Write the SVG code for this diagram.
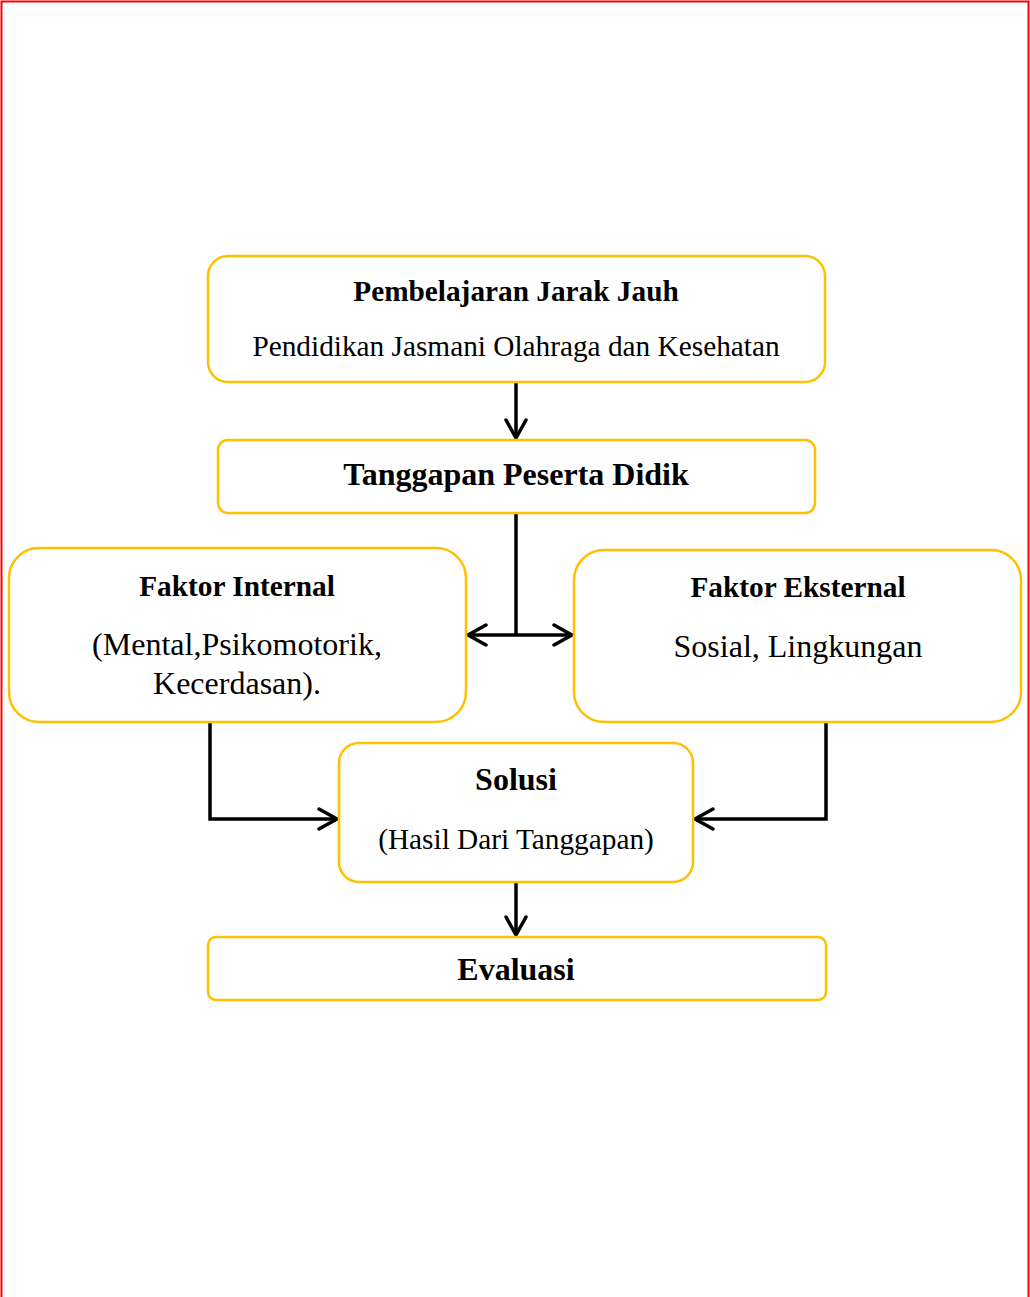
<svg xmlns="http://www.w3.org/2000/svg" width="1030" height="1297" viewBox="0 0 1030 1297">
<defs>
<style>
.box{fill:#fff;stroke:#FFC000;stroke-width:2.5}
.t{font-family:"Liberation Serif","Times New Roman",serif;fill:#000;text-anchor:middle}
.b{font-weight:bold}
.s{font-size:29.3px}
.l{font-size:32px}
.c{fill:none;stroke:#000;stroke-width:3.5}
</style>
<marker id="ah" viewBox="0 0 22 24" markerWidth="22" markerHeight="24" refX="20" refY="12" orient="auto-start-reverse" markerUnits="userSpaceOnUse">
<path d="M2,2 L20,12 L2,22" fill="none" stroke="#000" stroke-width="3.5" stroke-linecap="round" stroke-linejoin="round"/>
</marker>
</defs>
<rect x="0" y="0" width="1030" height="1297" fill="#fff"/>
<rect x="1.5" y="1.5" width="1027" height="1310" fill="none" stroke="#FF0000" stroke-width="2"/>
<g id="connectors">
<line class="c" x1="516" y1="382" x2="516" y2="438" marker-end="url(#ah)"/>
<line class="c" x1="516" y1="513" x2="516" y2="635"/>
<line class="c" x1="468" y1="635" x2="572" y2="635" marker-start="url(#ah)" marker-end="url(#ah)"/>
<polyline class="c" points="210,722 210,819 337,819" marker-end="url(#ah)"/>
<polyline class="c" points="826,722 826,819 695,819" marker-end="url(#ah)"/>
<line class="c" x1="516" y1="882" x2="516" y2="935" marker-end="url(#ah)"/>
</g>
<g id="n1">
<rect class="box" x="208" y="256" width="617" height="126" rx="20"/>
<text class="t b s" x="516" y="301">Pembelajaran Jarak Jauh</text>
<text class="t s" x="516" y="356">Pendidikan Jasmani Olahraga dan Kesehatan</text>
</g>
<g id="n2">
<rect class="box" x="218" y="440" width="597" height="73" rx="10"/>
<text class="t b l" x="516" y="485">Tanggapan Peserta Didik</text>
</g>
<g id="n3">
<rect class="box" x="9" y="548" width="457" height="174" rx="30"/>
<text class="t b s" x="237" y="596">Faktor Internal</text>
<text class="t l" x="237" y="655">(Mental,Psikomotorik,</text>
<text class="t l" x="237" y="694">Kecerdasan).</text>
</g>
<g id="n4">
<rect class="box" x="574" y="550" width="447" height="172" rx="30"/>
<text class="t b s" x="798" y="597">Faktor Eksternal</text>
<text class="t l" x="798" y="657">Sosial, Lingkungan</text>
</g>
<g id="n5">
<rect class="box" x="339" y="743" width="354" height="139" rx="20"/>
<text class="t b l" x="516" y="790">Solusi</text>
<text class="t s" x="516" y="849">(Hasil Dari Tanggapan)</text>
</g>
<g id="n6">
<rect class="box" x="208" y="937" width="618" height="63" rx="8"/>
<text class="t b l" x="516" y="980">Evaluasi</text>
</g>
</svg>
